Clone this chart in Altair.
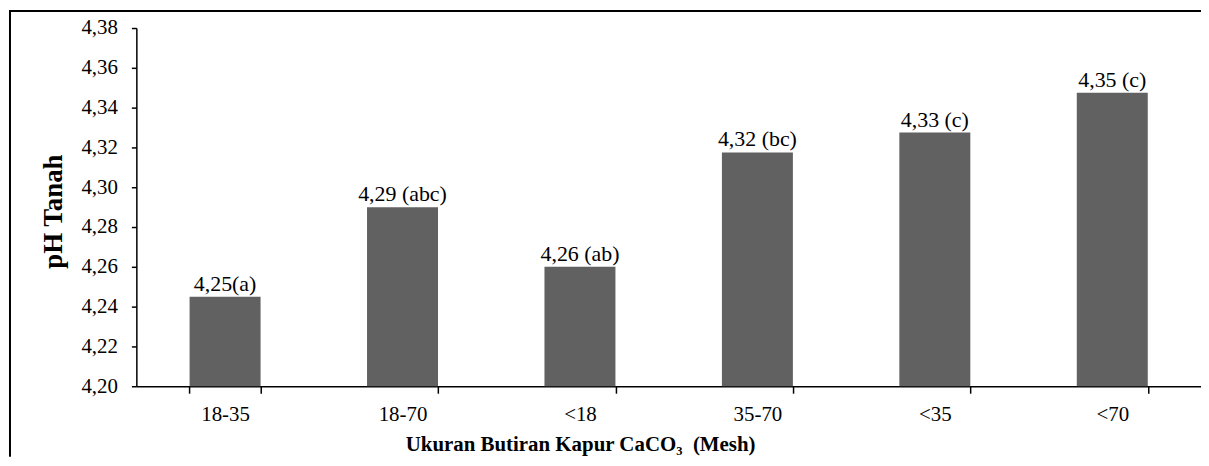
import altair as alt
import pandas as pd

categories = ["18-35", "18-70", "<18", "35-70", "<35", "<70"]
values = [4.245, 4.29, 4.26, 4.3175, 4.3275, 4.3475]
labels = ["4,25(a)", "4,29 (abc)", "4,26 (ab)", "4,32 (bc)", "4,33 (c)", "4,35 (c)"]
y_ticks = [4.20, 4.22, 4.24, 4.26, 4.28, 4.30, 4.32, 4.34, 4.36, 4.38]

df = pd.DataFrame({"cat": categories, "val": values, "lab": labels})
FONT = "'Liberation Serif', 'Times New Roman', Times, serif"
W, H = 1070, 360
PAD_B = 71

x_enc = alt.X(
    "cat:N",
    sort=categories,
    scale=alt.Scale(paddingInner=0.6, paddingOuter=0.3),
    axis=alt.Axis(
        title="Ukuran Butiran Kapur CaCO\u2083\u00a0 (Mesh)",
        titleFont=FONT, titleFontSize=21, titleFontWeight="bold", titleColor="black",
        titleX=446, titleY=65, titleBaseline="alphabetic", titleAlign="center",
        labelFont=FONT, labelFontSize=21, labelColor="black", labelAngle=0,
        labelPadding=10,
        tickBand="extent", tickSize=7, tickColor="black", tickWidth=1.5,
        domainColor="black", domainWidth=1.5,
    ),
)

y_enc = alt.Y(
    "val:Q",
    scale=alt.Scale(domain=[4.20, 4.38], nice=False, zero=False),
    axis=alt.Axis(
        title="pH Tanah",
        titleFont=FONT, titleFontSize=27, titleFontWeight="bold", titleColor="black",
        titleAngle=270, titleX=-83, titleY=184, titleAlign="center", titleBaseline="middle",
        values=y_ticks, labelOverlap=False,
        labelExpr="replace(format(datum.value, '.2f'), '.', ',')",
        labelFont=FONT, labelFontSize=21, labelColor="black", labelPadding=14,
        tickSize=5, tickColor="black", tickWidth=1.5,
        domainColor="black", domainWidth=1.5, grid=False,
    ),
)

base = alt.Chart(df).encode(x=x_enc, y=y_enc)

bars = base.mark_bar(color="#616161").encode(y2=alt.datum(4.20))

text = base.mark_text(font=FONT, fontSize=22, color="black", baseline="alphabetic", dy=-6).encode(
    text="lab:N",
)

one = pd.DataFrame({"a": [0]})
top_line = alt.Chart(one).mark_rule(color="black", strokeWidth=2).encode(
    x=alt.value(-127), x2=alt.value(W), y=alt.value(-17),
)
left_line = alt.Chart(one).mark_rule(color="black", strokeWidth=2).encode(
    x=alt.value(-127), y=alt.value(-18), y2=alt.value(H + PAD_B),
)

chart = alt.layer(bars, text, top_line, left_line).properties(
    width=W, height=H,
    autosize=alt.AutoSizeParams(type="none"),
    padding={"left": 129, "top": 19, "right": 0, "bottom": PAD_B},
).configure_view(strokeWidth=0)

chart.save("out.html", embed_options={"renderer": "svg", "actions": False})
